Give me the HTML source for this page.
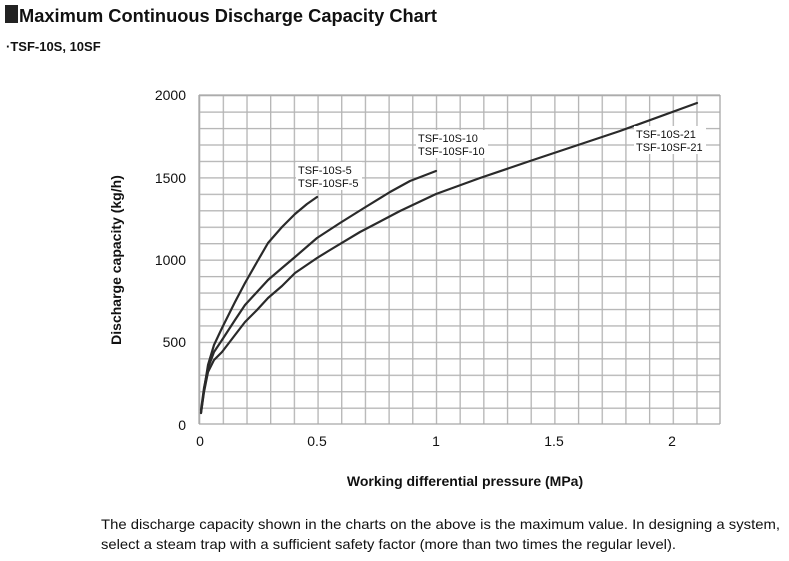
<!DOCTYPE html>
<html><head><meta charset="utf-8"><style>
html,body{margin:0;padding:0;background:#fff;}
svg{display:block;font-family:"Liberation Sans",Arial,sans-serif;}
</style></head><body>
<svg width="789" height="561" viewBox="0 0 789 561" xmlns="http://www.w3.org/2000/svg">
<defs>
<pattern id="gv" x="199" y="0" width="23.682" height="561" patternUnits="userSpaceOnUse"><rect x="0" y="0" width="1.3" height="561" fill="#b4b4b4"/></pattern>
<pattern id="gh" x="0" y="95" width="789" height="16.45" patternUnits="userSpaceOnUse"><rect x="0" y="0" width="789" height="1.3" fill="#b4b4b4"/></pattern>
</defs>
<rect x="5" y="5" width="13" height="18" fill="#222"/>
<text x="19" y="22" font-size="18" font-weight="bold" fill="#111" textLength="418" lengthAdjust="spacingAndGlyphs">Maximum Continuous Discharge Capacity Chart</text>
<text x="6" y="51" font-size="13" font-weight="bold" fill="#111">·TSF-10S, 10SF</text>
<rect x="199" y="95" width="521" height="329" fill="url(#gv)"/>
<rect x="199" y="95" width="521" height="329" fill="url(#gh)"/>
<g stroke="#a8a8a8" stroke-width="1.3">
<line x1="199" y1="95" x2="199" y2="424"/><line x1="720" y1="95" x2="720" y2="424"/>
<line x1="199" y1="95" x2="720" y2="95"/><line x1="199" y1="424" x2="720" y2="424"/>
</g>
<g font-size="14" fill="#111" text-anchor="end">
<text x="186" y="100">2000</text><text x="186" y="183">1500</text><text x="186" y="265">1000</text><text x="186" y="347">500</text><text x="186" y="430">0</text>
</g>
<g font-size="14" fill="#111" text-anchor="middle">
<text x="200" y="446">0</text><text x="317" y="446">0.5</text><text x="436" y="446">1</text><text x="554" y="446">1.5</text><text x="672" y="446">2</text>
</g>
<text x="465" y="486" font-size="14" font-weight="bold" fill="#111" text-anchor="middle">Working differential pressure (MPa)</text>
<text transform="translate(121,260) rotate(-90)" font-size="14" font-weight="bold" fill="#111" text-anchor="middle">Discharge capacity (kg/h)</text>
<g fill="none" stroke="#2a2a2a" stroke-width="2.2" stroke-linejoin="round" stroke-linecap="round">
<polyline points="201,413 204,390 208,365 214,345 222,328 235,302 245,283 257,262 268,243 282,227 295,214 307,204 317,197"/>
<polyline points="201,410 204,388 208,368 214,352 222,340 235,320 245,305 257,292 268,280 282,268 295,257 317,238 340,223 364,208 390,192 410,181 436,171"/>
<polyline points="201,413 204,392 208,372 214,360 222,352 235,335 245,322 257,310 268,298 282,286 295,273 317,258 330,250 360,232 400,211 436,194 480,178 533,160 554,153 620,131 697,103"/>
</g>
<g font-size="11" fill="#111">
<rect x="296" y="162" width="66" height="28" fill="#fff"/>
<text x="298" y="174">TSF-10S-5</text><text x="298" y="187">TSF-10SF-5</text>
<rect x="416" y="130" width="72" height="28" fill="#fff"/>
<text x="418" y="142">TSF-10S-10</text><text x="418" y="155">TSF-10SF-10</text>
<rect x="634" y="126" width="72" height="28" fill="#fff"/>
<text x="636" y="138">TSF-10S-21</text><text x="636" y="151">TSF-10SF-21</text>
</g>
<g font-size="14" fill="#111">
<text x="101" y="529" textLength="679" lengthAdjust="spacingAndGlyphs">The discharge capacity shown in the charts on the above is the maximum value. In designing a system,</text>
<text x="101" y="549" textLength="575" lengthAdjust="spacingAndGlyphs">select a steam trap with a sufficient safety factor (more than two times the regular level).</text>
</g>
</svg>
</body></html>
